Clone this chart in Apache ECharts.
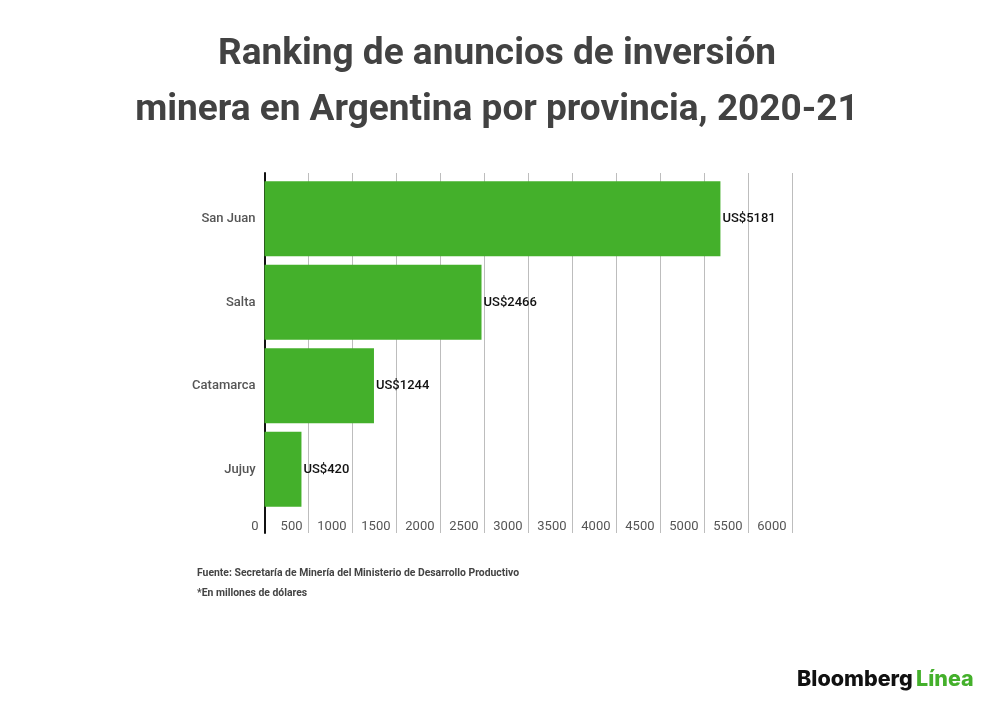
<!DOCTYPE html>
<html>
<head>
<meta charset="utf-8">
<script src="https://cdn.jsdelivr.net/npm/echarts@6/dist/echarts.min.js"></script>
<style>
  html, body { margin: 0; padding: 0; background: #fff; }
  #chart { width: 1000px; height: 707px; }
</style>
</head>
<body>
<div id="chart"></div>
<script>
const provincias = ['San Juan', 'Salta', 'Catamarca', 'Jujuy'];
const inversion = [5181, 2466, 1244, 420];
const ticksX = [0, 500, 1000, 1500, 2000, 2500, 3000, 3500, 4000, 4500, 5000, 5500, 6000];

const verde = '#44b02b';
const font = 'Roboto, "Noto Sans", sans-serif';

const chart = echarts.init(document.getElementById('chart'));

const option = {
    backgroundColor: '#ffffff',
    textStyle: { fontFamily: font },
    title: {
        text: 'Ranking de anuncios de inversión\nminera en Argentina por provincia, 2020-21',
        left: 492,
        top: 22,
        textAlign: 'center',
        textStyle: {
            fontFamily: font,
            fontSize: 37,
            fontWeight: 'bold',
            color: '#424242',
            lineHeight: 56
        }
    },
    grid: [
        { left: 264.5, width: 528, top: 177, height: 334 },
        { left: 264.5, width: 528, top: 173, height: 360 }
    ],
    xAxis: [
        {
            gridIndex: 0, type: 'value', min: 0, max: 6000, interval: 500,
            show: false
        },
        {
            gridIndex: 1, type: 'value', min: ticksX[0], max: ticksX[ticksX.length - 1], interval: 500,
            axisLine: { show: false },
            axisTick: { show: false },
            splitLine: { show: true, lineStyle: { color: '#bdbdbd', width: 1 } },
            axisLabel: {
                inside: true,
                margin: 0,
                align: 'right',
                padding: [0, 6, 0, 0],
                formatter: v => String(v),
                fontFamily: font,
                fontSize: 13,
                color: '#555'
            }
        }
    ],
    yAxis: [
        {
            gridIndex: 0, type: 'category', data: provincias, inverse: true,
            axisLine: { show: false },
            axisTick: { show: false },
            axisLabel: { margin: 9, fontFamily: font, fontSize: 13, color: '#555', fontWeight: 500 }
        },
        {
            gridIndex: 1, type: 'value', min: 0, max: 1,
            axisLine: { show: true, lineStyle: { color: '#111', width: 2 } },
            axisTick: { show: false },
            axisLabel: { show: false },
            splitLine: { show: false }
        }
    ],
    series: [{
        type: 'bar',
        xAxisIndex: 0,
        yAxisIndex: 0,
        data: inversion,
        barWidth: 75,
        itemStyle: { color: verde },
        label: {
            show: true,
            position: 'right',
            distance: 2,
            formatter: p => 'US$' + p.value,
            fontFamily: font,
            fontSize: 13,
            fontWeight: 500,
            color: '#111'
        }
    }],
    graphic: [
        {
            type: 'text', left: 197, top: 568,
            style: {
                text: 'Fuente: Secretaría de Minería del Ministerio de Desarrollo Productivo',
                font: 'bold 10.4px ' + font, fill: '#444'
            }
        },
        {
            type: 'text', left: 197, top: 588,
            style: {
                text: '*En millones de dólares',
                font: 'bold 10.4px ' + font, fill: '#444'
            }
        },
        {
            type: 'text', left: 797, top: 669,
            style: {
                text: '{a|Bloomberg} {b|Línea}',
                rich: {
                    a: { fontFamily: 'Inter, Roboto, sans-serif', fontSize: 21.5, fontWeight: 800, fill: '#111', color: '#111' },
                    b: { fontFamily: 'Inter, Roboto, sans-serif', fontSize: 21.5, fontWeight: 800, fill: verde, color: verde }
                }
            }
        }
    ]
};

chart.setOption(option);
window.addEventListener('resize', () => chart.resize());
</script>
</body>
</html>
